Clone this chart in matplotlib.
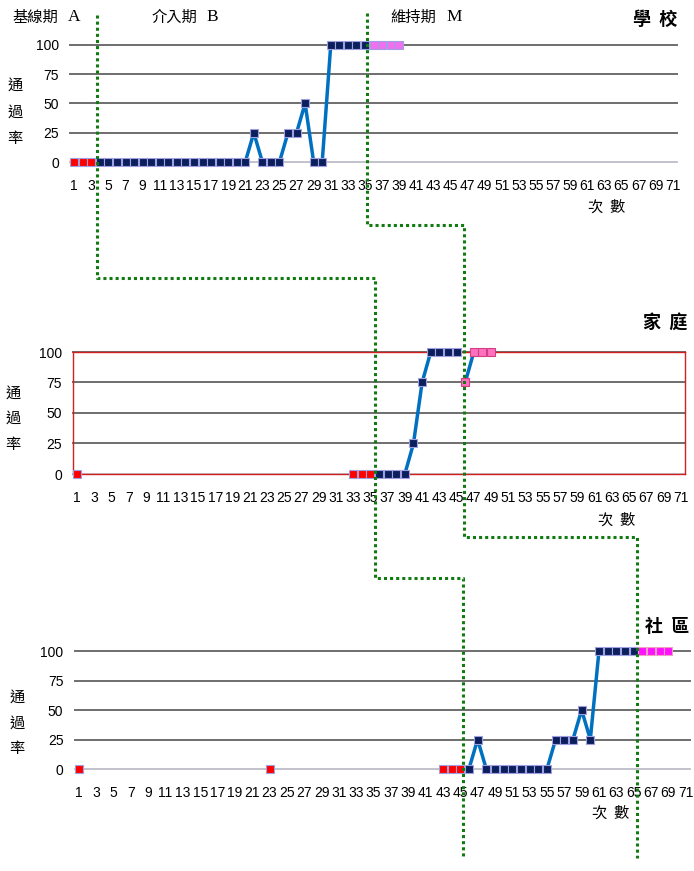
"""多基線設計：學校 / 家庭 / 社區 三情境通過率折線圖。"""
import matplotlib
matplotlib.use('Agg')
import matplotlib.pyplot as plt
from matplotlib.lines import Line2D

plt.rcParams['font.family'] = ['Noto Sans CJK TC', 'DejaVu Sans']

W, H = 694, 871

# 學校
school_A_x = [1, 2, 3]
school_A_y = [0, 0, 0]
school_B_x = [4, 5, 6, 7, 8, 9, 10, 11, 12, 13, 14, 15, 16, 17, 18, 19, 20, 21,
              22, 23, 24, 25, 26, 27, 28, 29, 30, 31, 32, 33, 34, 35]
school_B_y = [0, 0, 0, 0, 0, 0, 0, 0, 0, 0, 0, 0, 0, 0, 0, 0, 0, 0,
              25, 0, 0, 0, 25, 25, 50, 0, 0, 100, 100, 100, 100, 100]
school_M_x = [36, 37, 38, 39]
school_M_y = [100, 100, 100, 100]

# 家庭
home_A_x = [1, 33, 34, 35]
home_A_y = [0, 0, 0, 0]
home_B_x = [36, 37, 38, 39, 40, 41, 42, 43, 44, 45]
home_B_y = [0, 0, 0, 0, 25, 75, 100, 100, 100, 100]
home_M_x = [46, 47, 48, 49]
home_M_y = [75, 100, 100, 100]

# 社區
comm_A_x = [1, 23, 43, 44, 45]
comm_A_y = [0, 0, 0, 0, 0]
comm_B_x = [46, 47, 48, 49, 50, 51, 52, 53, 54, 55, 56, 57, 58, 59, 60,
            61, 62, 63, 64, 65]
comm_B_y = [0, 25, 0, 0, 0, 0, 0, 0, 0, 0, 25, 25, 25, 50, 25,
            100, 100, 100, 100, 100]
comm_M_x = [66, 67, 68, 69]
comm_M_y = [100, 100, 100, 100]

yticks = [0, 25, 50, 75, 100]
xticks = list(range(1, 72, 2))

LINE = '#0070C0'
RED = '#FF0000'
NAVY = '#0A1F5C'
GREEN = '#117A11'

fig = plt.figure(figsize=(W / 100, H / 100), dpi=100)


def px_axes(left, top, right, bottom):
    return fig.add_axes([left / W, 1 - bottom / H, (right - left) / W, (bottom - top) / H])


def panel(box, A, B, M, m_face, m_edge, frame=False):
    ax = px_axes(*box)
    ax.set_xlim(0.5, 71.5)
    ax.set_ylim(0, 100)
    for v in yticks[1:]:
        ax.axhline(v, color='#6E6E6E', lw=1.4, zorder=1)
    ax.axhline(0, color='#BDBDC8', lw=1.3, zorder=1)
    for s in ax.spines.values():
        s.set_visible(frame)
        s.set_color('#D02020')
        s.set_linewidth(1.0)
    ax.set_xticks(xticks)
    ax.set_xticklabels([str(t) for t in xticks], fontsize=10, family='Liberation Sans')
    ax.set_yticks(yticks)
    ax.set_yticklabels([str(t) for t in yticks], fontsize=10, family='Liberation Sans')
    ax.tick_params(axis='x', length=0, pad=12)
    ax.tick_params(axis='y', length=0, pad=8)
    ax.plot(B[0], B[1], color=LINE, lw=2.5, zorder=2)
    ax.plot(M[0], M[1], color=LINE, lw=2.5, zorder=2)
    ax.plot(A[0], A[1], ls='none', marker='s', ms=6, mfc=RED, mec='#A0A0E0', mew=0.8, zorder=3)
    ax.plot(B[0], B[1], ls='none', marker='s', ms=6, mfc=NAVY, mec='#A0A0E0', mew=0.8, zorder=3)
    ax.plot(M[0], M[1], ls='none', marker='s', ms=6, mfc=m_face, mec=m_edge, mew=0.8, zorder=3)
    for c in ax.get_children():
        if isinstance(c, Line2D):
            c.set_clip_on(False)
    return ax


panel((70, 45, 677, 162), (school_A_x, school_A_y), (school_B_x, school_B_y),
      (school_M_x, school_M_y), '#F070F0', '#A0A0E0')
panel((73, 352, 685, 474), (home_A_x, home_A_y), (home_B_x, home_B_y),
      (home_M_x, home_M_y), '#FF70C0', '#D04080', frame=True)
panel((74.5, 651, 690, 769), (comm_A_x, comm_A_y), (comm_B_x, comm_B_y),
      (comm_M_x, comm_M_y), '#FF10FF', '#F0A0C0')


def ftext(x, y, s, **kw):
    fig.text(x / W, 1 - y / H, s, **kw)


# 階段標籤
ftext(12, 17, '基線期', fontsize=11, va='center')
ftext(68, 17, 'A', fontsize=12.5, va='center', family='Liberation Serif')
ftext(152, 17, '介入期', fontsize=11, va='center')
ftext(206, 17, 'B', fontsize=12.5, va='center', family='Liberation Serif')
ftext(390, 17, '維持期', fontsize=11, va='center')
ftext(446, 17, 'M', fontsize=12.5, va='center', family='Liberation Serif')

# 情境名稱
ftext(633, 19, '學  校', fontsize=13, fontweight='bold', va='center')
ftext(643, 322, '家  庭', fontsize=13, fontweight='bold', va='center')
ftext(645, 626, '社  區', fontsize=13, fontweight='bold', va='center')

# 軸標題
for x, y in [(588, 207), (598, 520), (592, 813)]:
    ftext(x, y, '次  數', fontsize=11, va='center')
for x, ys in [(15, (85, 112, 138)), (13, (393, 418, 445)), (17, (697, 723, 748))]:
    for ch, y in zip('通過率', ys):
        ftext(x, y, ch, fontsize=11, va='center', ha='center', fontweight='medium')

# 階段分隔虛線
phase1 = [(97, 15), (97, 278), (375, 278), (375, 578), (463, 578), (463, 858)]
phase2 = [(367, 13), (367, 225), (464, 225), (464, 537), (637, 537), (637, 858)]
for path in (phase1, phase2):
    xs = [p[0] / W for p in path]
    ys = [1 - p[1] / H for p in path]
    fig.add_artist(Line2D(xs, ys, transform=fig.transFigure, color=GREEN, lw=2.2,
                          ls=(0, (1, 1)), zorder=10))

fig.savefig('out.png', dpi=100)
